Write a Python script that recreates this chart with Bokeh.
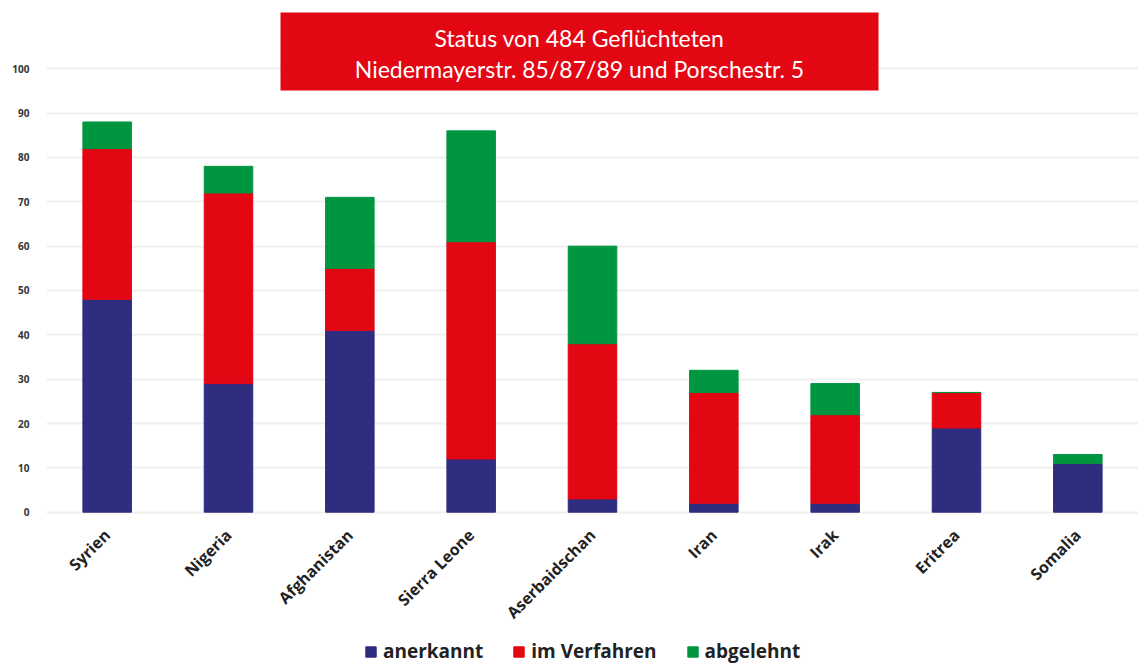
import math
from bokeh.plotting import figure
from bokeh.models import (ColumnDataSource, FactorRange, Range1d, FixedTicker, Label,
                          BoxAnnotation, Legend, LegendItem)
from bokeh.embed import file_html
from bokeh.resources import INLINE

countries = ["Syrien", "Nigeria", "Afghanistan", "Sierra Leone", "Aserbaidschan",
             "Iran", "Irak", "Eritrea", "Somalia"]
anerkannt = [48, 29, 41, 12, 3, 2, 2, 19, 11]
im_verfahren = [34, 43, 14, 49, 35, 25, 20, 8, 0]
abgelehnt = [6, 6, 16, 25, 22, 5, 7, 0, 2]
series = ["anerkannt", "im Verfahren", "abgelehnt"]
colors = ["#2e2d7f", "#e30613", "#009640"]
y_ticks = [0, 10, 20, 30, 40, 50, 60, 70, 80, 90, 100]
title_lines = ["Status von 484 Geflüchteten", "Niedermayerstr. 85/87/89 und Porschestr. 5"]

source = ColumnDataSource(dict(country=countries, anerkannt=anerkannt,
                               im_verfahren=im_verfahren, abgelehnt=abgelehnt))

p = figure(x_range=FactorRange(*countries), y_range=Range1d(-34.35, 115.4),
           width=1138, height=664, output_backend="svg", toolbar_location=None,
           min_border_left=46, min_border_right=0, min_border_top=0, min_border_bottom=0)

renderers = p.vbar_stack(["anerkannt", "im_verfahren", "abgelehnt"], x="country", width=0.4,
                         color=colors, source=source)

legend = Legend(items=[LegendItem(label=s, renderers=[r]) for s, r in zip(series, renderers)],
                orientation="horizontal", location=(318, 0))
legend.label_text_font = "Open Sans"
legend.label_text_font_style = "bold"
legend.label_text_font_size = "19px"
legend.label_text_color = "#222222"
legend.glyph_width = 13
legend.glyph_height = 13
legend.spacing = 29
legend.padding = 2
legend.margin = 0
legend.border_line_color = None
legend.background_fill_alpha = 0
legend.label_standoff = 6
p.add_layout(legend)

p.outline_line_color = None
p.xgrid.grid_line_color = None
p.ygrid.ticker = FixedTicker(ticks=y_ticks)
p.ygrid.grid_line_color = "#efefef"
p.ygrid.grid_line_width = 2

p.yaxis.ticker = FixedTicker(ticks=y_ticks)
p.yaxis.axis_line_color = None
p.yaxis.major_tick_line_color = None
p.yaxis.minor_tick_line_color = None
p.yaxis.major_label_text_font = "Open Sans"
p.yaxis.major_label_text_font_style = "bold"
p.yaxis.major_label_text_font_size = "10px"
p.yaxis.major_label_text_color = "#333333"
p.yaxis.major_label_standoff = 11

p.xaxis.fixed_location = 0
p.xaxis.axis_line_color = None
p.xaxis.major_tick_line_color = None
p.xaxis.minor_tick_line_color = None
p.xaxis.major_label_orientation = math.pi / 4
p.xaxis.major_label_text_font = "Open Sans"
p.xaxis.major_label_text_font_style = "bold"
p.xaxis.major_label_text_font_size = "16px"
p.xaxis.major_label_text_color = "#222222"
p.xaxis.major_label_standoff = 14

box = BoxAnnotation(left=234, right=832, bottom=574, top=652,
                    left_units="screen", right_units="screen",
                    bottom_units="screen", top_units="screen",
                    fill_color="#e30613", fill_alpha=1.0, line_color=None)
p.add_layout(box)
title = Label(x=533, y=611, x_units="screen", y_units="screen",
              text="\n".join(title_lines), text_align="center", text_baseline="middle",
              text_color="white", text_font="Lato", text_font_size="23px",
              text_line_height=1.1)
p.add_layout(title)

open("out.html", "w").write(file_html(p, INLINE))
